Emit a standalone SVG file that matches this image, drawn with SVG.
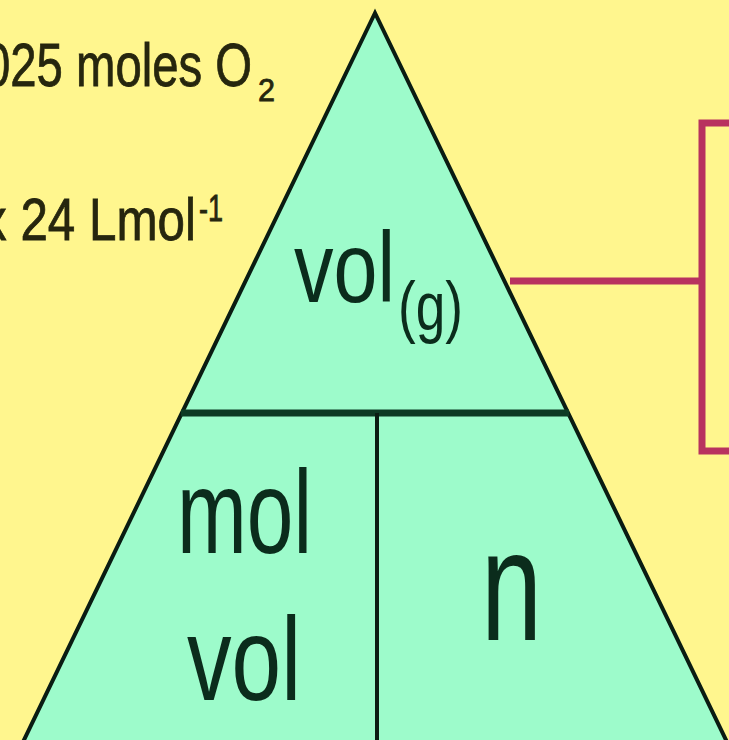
<svg xmlns="http://www.w3.org/2000/svg" width="729" height="740" viewBox="0 0 729 740">
  <style>
    .lbl { font-family: "Liberation Sans", Arial, sans-serif; fill: #0b2c1c; }
    .note { font-family: "Liberation Sans", Arial, sans-serif; fill: #26260e; stroke: #26260e; stroke-width: 0.8; }
    .tri { fill: #9dfbcb; stroke: #0a1c12; stroke-width: 4; stroke-linejoin: miter; }
    .pink { fill: none; stroke: #b8325f; stroke-width: 7; }
  </style>
  <rect x="0" y="0" width="729" height="740" fill="#fff68e"/>

  <g id="notes">
    <text class="note" font-size="62"><tspan x="-16" y="86" textLength="268" lengthAdjust="spacingAndGlyphs">025 moles O</tspan><tspan x="258" y="101" font-size="32" textLength="17" lengthAdjust="spacingAndGlyphs">2</tspan></text>
    <text class="note" font-size="60"><tspan x="-18" y="240" textLength="214" lengthAdjust="spacingAndGlyphs">x 24 Lmol</tspan><tspan x="199" y="221" font-size="36" textLength="24" lengthAdjust="spacingAndGlyphs">-1</tspan></text>
  </g>

  <g id="triangle">
    <polygon class="tri" points="375,13 23,742 727,742"/>
    <line x1="181" y1="413" x2="569" y2="413" stroke="#0d3a24" stroke-width="7"/>
    <line x1="377" y1="413" x2="377" y2="742" stroke="#0a1c12" stroke-width="4"/>
  </g>

  <g id="node-volg">
    <text class="lbl" font-size="100"><tspan x="294" y="302" textLength="101" lengthAdjust="spacingAndGlyphs">vol</tspan><tspan x="398" y="330" font-size="68" textLength="65" lengthAdjust="spacingAndGlyphs">(g)</tspan></text>
  </g>
  <g id="node-molvol">
    <text class="lbl" x="177" y="553" font-size="118" textLength="135" lengthAdjust="spacingAndGlyphs">mol</text>
    <text class="lbl" x="187" y="700" font-size="119" textLength="114" lengthAdjust="spacingAndGlyphs">vol</text>
  </g>
  <g id="node-n">
    <text class="lbl" x="481" y="640" font-size="158" textLength="61" lengthAdjust="spacingAndGlyphs">n</text>
  </g>

  <g id="connectors">
    <line class="pink" x1="510" y1="281" x2="702" y2="281"/>
    <rect class="pink" x="702" y="123" width="60" height="328"/>
  </g>
</svg>
